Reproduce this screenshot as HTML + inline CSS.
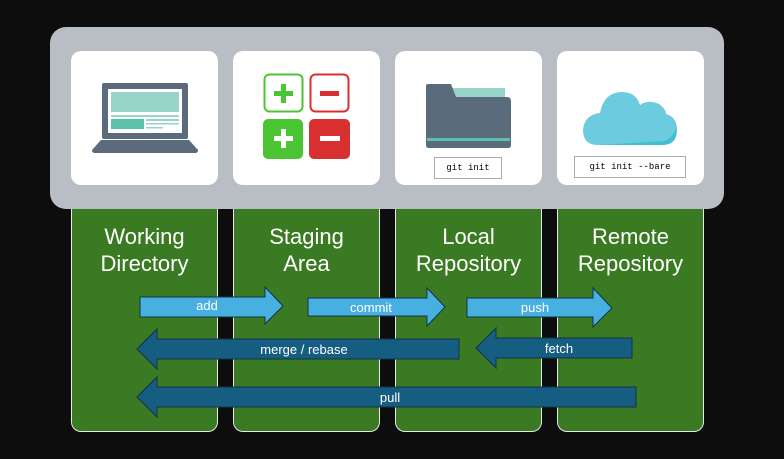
<!DOCTYPE html><html><head><style>
body{margin:0;width:784px;height:459px;background:#0d0d0d;position:relative;overflow:hidden;font-family:"Liberation Sans",sans-serif}
.col{position:absolute;top:195px;width:145px;height:236px;background:#3a7a22;border:1px solid #e8e8e8;border-top:none;border-radius:0 0 10px 10px}
.t{position:absolute;top:223px;width:147px;text-align:center;color:#fff;font-size:22px;line-height:27px}
.panel{position:absolute;left:50px;top:27px;width:674px;height:182px;background:#b9bdc4;border-radius:16px}
.card{position:absolute;top:51px;width:147px;height:134px;background:#fff;border-radius:10px}
.code{position:absolute;border:1px solid #aaa;font-family:"Liberation Mono",monospace;font-size:9px;text-align:center;line-height:20px;color:#000;background:#fff}
svg{position:absolute;left:0;top:0}
</style></head><body>
<div class="col" style="left:71px"></div><div class="col" style="left:233px"></div><div class="col" style="left:395px"></div><div class="col" style="left:557px"></div>
<div class="t" style="left:71px">Working<br>Directory</div>
<div class="t" style="left:233px">Staging<br>Area</div>
<div class="t" style="left:395px">Local<br>Repository</div>
<div class="t" style="left:557px">Remote<br>Repository</div>
<div class="panel"></div>
<div class="card" style="left:71px"></div><div class="card" style="left:233px"></div><div class="card" style="left:395px"></div><div class="card" style="left:557px"></div>
<div class="code" style="left:434px;top:157px;width:66px">git init</div>
<div class="code" style="left:574px;top:156px;width:110px">git init --bare</div>
<svg width="784" height="459" font-family="Liberation Sans" font-size="13" fill="#fff">
<rect x="102" y="83" width="86" height="56" rx="2" fill="#5a6b7b"/>
<rect x="108" y="89" width="74" height="44" fill="#fff"/>
<rect x="111" y="92" width="68" height="20" fill="#98d5c8"/>
<rect x="111" y="115" width="68" height="2" fill="#98d5c8"/>
<rect x="111" y="119" width="33" height="10" fill="#5cc0ab"/>
<rect x="146" y="119" width="33" height="2" fill="#98d5c8"/><rect x="146" y="123" width="33" height="1.5" fill="#98d5c8"/><rect x="146" y="127" width="17" height="1.5" fill="#98d5c8"/>
<path d="M101 140H189L198 150Q198 153 195 153H95Q92 153 92 150Z" fill="#5a6b7b"/>
<rect x="264.5" y="74.5" width="38" height="37" rx="5" fill="none" stroke="#4cc534" stroke-width="2"/>
<rect x="274" y="91" width="19" height="5" fill="#4cc534"/><rect x="281" y="84" width="5" height="19" fill="#4cc534"/>
<rect x="310.5" y="74.5" width="38" height="37" rx="5" fill="none" stroke="#d83030" stroke-width="2"/>
<rect x="320" y="91" width="19" height="5" fill="#d83030"/>
<rect x="263" y="119" width="40" height="40" rx="5" fill="#4cc534"/>
<rect x="274" y="136" width="19" height="5" fill="#fff"/><rect x="281" y="129" width="5" height="19" fill="#fff"/>
<rect x="309" y="119" width="41" height="40" rx="5" fill="#d83030"/>
<rect x="320" y="136" width="20" height="5" fill="#fff"/>
<path d="M452 88H505V100H452Z" fill="#98d5c8"/>
<path d="M428 84H451L456 97H507Q511 97 511 101V145Q511 148 508 148H429Q426 148 426 145V86Q426 84 428 84Z" fill="#5a6b7b"/>
<rect x="427" y="138" width="83" height="3" fill="#5cc0ab"/>
<path d="M598 145Q583 145 583 130Q584 115 600 113Q604 92 622 92Q636 92 640 105Q648 99 659 104Q666 109 666 114Q677 117 677 130Q677 145 662 145Z" fill="#6ccbdf"/>
<path d="M598 145Q650 142 664 141Q675 137 676 126Q679 145 662 145Z" fill="#40bfd3"/>
<g stroke="#12324a" stroke-width="1">
<path d="M140 297H265V287L283 306L265 324V317H140Z" fill="#48b0e0"/>
<path d="M308 298H427V288L445 307L427 326V316H308Z" fill="#48b0e0"/>
<path d="M467 298H593V288L612 308L593 327V317H467Z" fill="#48b0e0"/>
<path d="M459 339H157V329L137 349L157 369V359H459Z" fill="#165d82"/>
<path d="M632 338H496V328L476 348L496 368V358H632Z" fill="#165d82"/>
<path d="M636 387H157V377L137 397L157 417V407H636Z" fill="#165d82"/>
</g>
<g text-anchor="middle">
<text x="207" y="310">add</text><text x="371" y="312">commit</text><text x="535" y="312">push</text>
<text x="304" y="354">merge / rebase</text><text x="559" y="353">fetch</text><text x="390" y="402">pull</text>
</g>
</svg>
</body></html>
